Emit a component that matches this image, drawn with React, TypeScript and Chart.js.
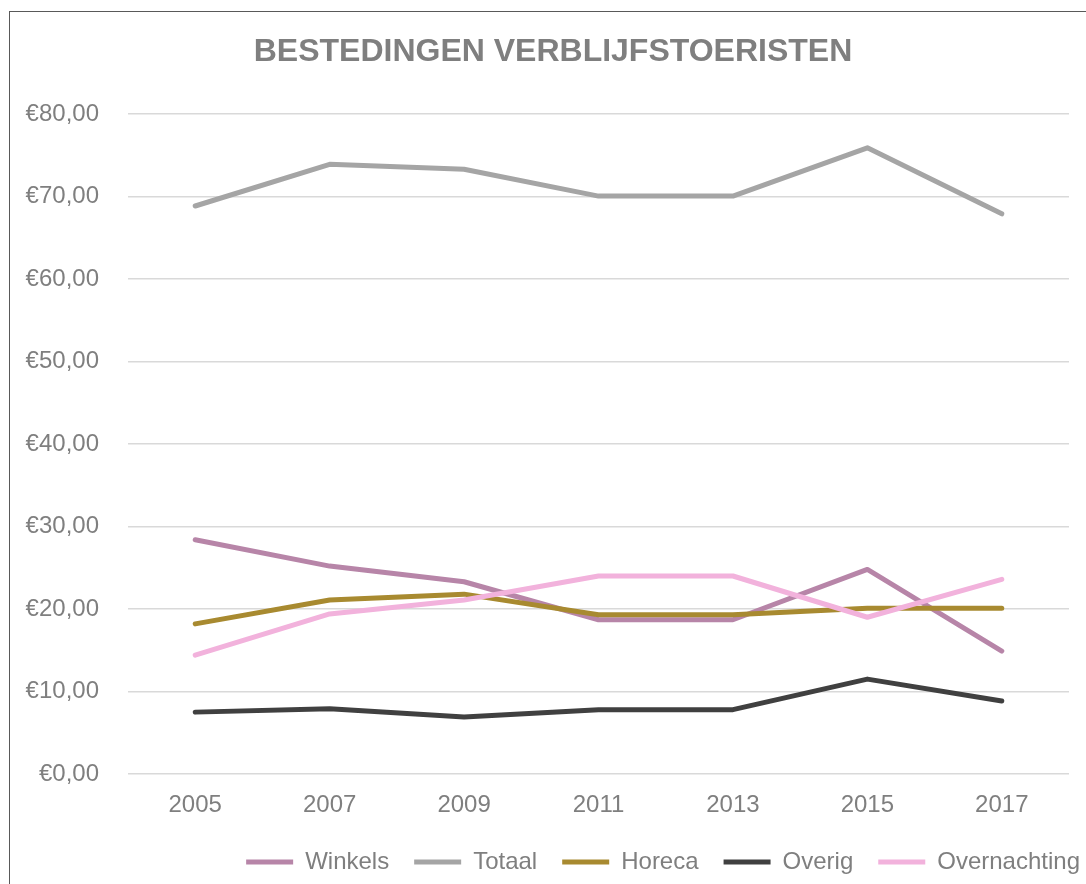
import { useEffect, useRef } from 'react';
import { Chart, registerables } from 'chart.js';

Chart.register(...registerables);

const years = ['2005', '2007', '2009', '2011', '2013', '2015', '2017'];
const winkels = [28.4, 25.2, 23.3, 18.7, 18.7, 24.8, 14.9];
const totaal = [68.85, 73.9, 73.3, 70.05, 70.05, 75.9, 67.9];
const horeca = [18.2, 21.1, 21.8, 19.3, 19.3, 20.1, 20.1];
const overig = [7.5, 7.9, 6.9, 7.8, 7.8, 11.5, 8.85];
const overnachting = [14.4, 19.4, 21.1, 24.0, 24.0, 19.0, 23.6];

const seriesNames = ['Winkels', 'Totaal', 'Horeca', 'Overig', 'Overnachting'];
const seriesColors = ['#b785a8', '#a5a5a5', '#a88a30', '#404040', '#f2b2dc'];
const titleText = 'BESTEDINGEN VERBLIJFSTOERISTEN';

const FONT = '"Liberation Sans", Arial, sans-serif';
const GRAY = '#7f7f7f';

export default function App() {
  const ref = useRef<HTMLCanvasElement | null>(null);

  useEffect(() => {
    if (!ref.current) return;
    const values = [winkels, totaal, horeca, overig, overnachting];
    const chart = new Chart(ref.current, {
      type: 'line',
      data: {
        labels: years,
        datasets: seriesNames.map((name, i) => ({
          label: name,
          data: values[i],
          borderColor: seriesColors[i],
          backgroundColor: seriesColors[i],
          borderWidth: 5,
          borderCapStyle: 'round' as const,
          borderJoinStyle: 'round' as const,
          pointRadius: 0,
          pointHoverRadius: 0,
          tension: 0,
          fill: false,
          order: seriesNames.length - i,
        })),
      },
      options: {
        responsive: false,
        animation: false,
        devicePixelRatio: 1,
        layout: { padding: { left: 1, right: 0, top: 0, bottom: 0 } },
        plugins: {
          tooltip: { enabled: false },
          title: {
            display: true,
            text: titleText,
            color: GRAY,
            font: { family: FONT, size: 32, weight: 'bold' },
            padding: { top: 33, bottom: 42.6 },
          },
          legend: {
            position: 'bottom',
            align: 'end',
            labels: {
              usePointStyle: true,
              pointStyle: 'line',
              pointStyleWidth: 47,
              color: GRAY,
              font: { family: FONT, size: 24 },
              padding: 25,
              sort: (a: any, b: any) => a.datasetIndex - b.datasetIndex,
            },
          },
        },
        scales: {
          x: {
            type: 'category',
            offset: true,
            grid: { display: false },
            border: { display: false },
            ticks: { color: GRAY, font: { family: FONT, size: 24 }, padding: 9 },
            afterFit: (s: any) => { s.height = 51; },
          },
          y: {
            type: 'linear',
            position: 'left',
            min: 0,
            max: 80,
            grid: { color: '#d9d9d9', lineWidth: 1.5, drawTicks: false },
            border: { display: false },
            ticks: {
              stepSize: 10,
              padding: 29,
              color: GRAY,
              font: { family: FONT, size: 24 },
              callback: (v: any) => '€' + Number(v).toFixed(2).replace('.', ','),
            },
            afterFit: (s: any) => { s.width = 127; },
          },
          yR: {
            type: 'linear',
            position: 'right',
            display: true,
            grid: { display: false, drawTicks: false },
            border: { display: false },
            ticks: { display: false },
            afterFit: (s: any) => { s.width = 36; },
          },
        },
      },
    });
    return () => chart.destroy();
  }, []);

  return (
    <div style={{ position: 'fixed', left: 0, top: 0, width: 1086, height: 884, overflow: 'hidden', background: '#ffffff' }}>
      <div style={{ position: 'absolute', left: 9, top: 11, width: 1200, height: 1000, border: '1.5px solid #595959' }} />
      <canvas ref={ref} width={1105} height={884} style={{ position: 'absolute', left: 0, top: 0 }} />
    </div>
  );
}
